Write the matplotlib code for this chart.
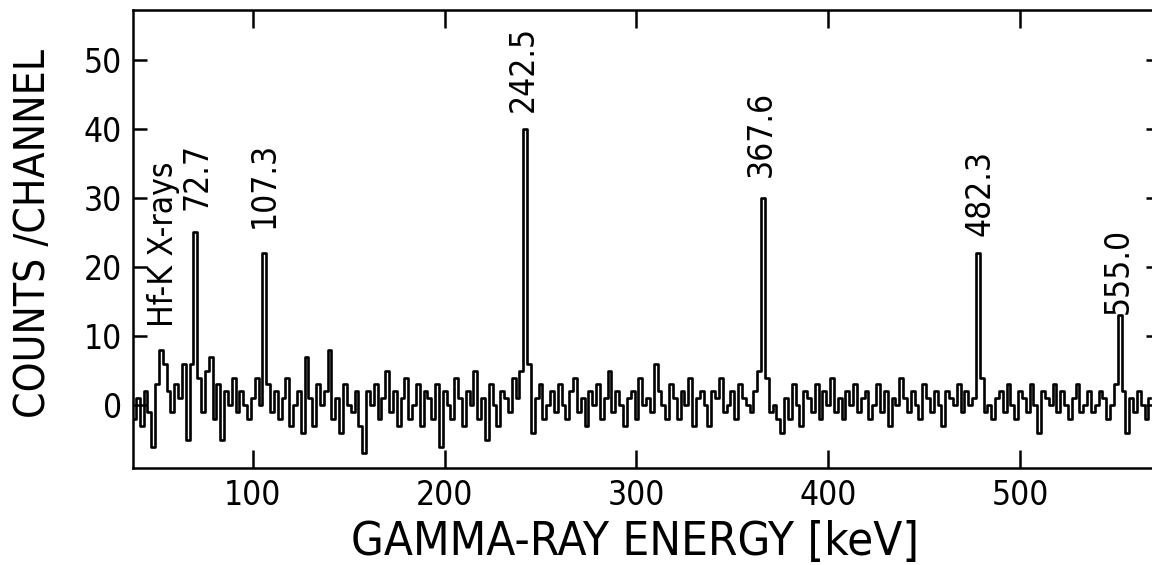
import matplotlib
matplotlib.use("Agg")
import matplotlib.pyplot as plt

# channel energies (keV), 2 keV per channel
energy_start = 38
energy_step = 2
counts = [
    -2, 1, -3, 2, -1, -6, 3, 8, 6, 2,
    -1, 3, 1, 6, -5, 6, 25, 4, -1, 5,
    7, -2, 3, -5, 2, 0, 4, -1, 2, 0,
    -2, 1, 4, 0, 22, 3, -1, 2, -2, 1,
    4, -3, 0, 2, -4, 7, 1, -3, 3, 0,
    2, 8, -2, 1, -4, 3, 0, -1, 2, -3,
    -7, 2, 0, 3, -2, 1, 5, -1, 2, -3,
    1, 4, -2, 0, 3, -3, 2, 1, -2, 3,
    -6, 2, 0, -2, 4, 1, -3, 2, 0, 5,
    -2, 1, -5, 3, 0, -3, 2, 1, -1, 4,
    1, 5, 40, 6, -4, 1, 3, -2, 0, 2,
    -1, 3, 0, -2, 2, 4, -1, 1, -3, 2,
    0, 3, -2, 1, 5, -1, 2, 0, -3, 1,
    2, -2, 4, 0, 1, -1, 6, 2, 0, -2,
    3, 1, -2, 2, 0, 4, -3, 1, 2, 0,
    -3, 2, 1, 4, -1, 0, 2, -2, 3, 1,
    0, -1, 2, 5, 30, 4, -1, 0, -2, -4,
    1, -2, 3, 0, -3, 2, 1, -1, 3, -2,
    2, 0, 4, -1, 1, -2, 2, 0, 3, -1,
    1, 2, -2, 0, 3, -1, 2, -3, 1, 0,
    4, 1, -1, 2, 0, -2, 3, 1, -1, 2,
    0, -3, 2, 1, 0, 3, -1, 2, 0, 1,
    22, 4, -1, 0, -2, 1, 2, -1, 3, 0,
    -2, 2, 1, -1, 3, 0, -4, 2, 1, 0,
    3, -1, 2, 0, -2, 1, 3, -1, 0, 2,
    -1, 0, 2, 1, -2, 0, 3, 13, 2, -4,
    1, -1, 2, 0, -2, 1,
]
energies = [energy_start + energy_step * i for i in range(len(counts))]

# peak annotations: text, x (keV), bottom of text (counts)
peak_labels = ["Hf-K X-rays", "72.7", "107.3", "242.5", "367.6", "482.3", "555.0"]
label_x = [53.2, 70.9, 105.8, 240.9, 365.0, 479.1, 551.1]
label_y = [11.3, 28.3, 25.7, 42.5, 33.0, 24.5, 13.2]

x_ticks = [100, 200, 300, 400, 500]
y_ticks = [0, 10, 20, 30, 40, 50]

plt.rcParams['font.family'] = ['DejaVu Sans']
plt.rcParams['font.stretch'] = 'condensed'

fig = plt.figure(figsize=(11.52, 5.65), dpi=100)
ax = fig.add_axes([133/1152, 97/565, (1160-133)/1152, 458/565])

ax.plot(energies, counts, color='black', lw=1.9, drawstyle='steps-mid')

ax.set_xlim(37.5, 573)
ax.set_ylim(-9.1, 57.2)
ax.set_xticks(x_ticks)
ax.set_yticks(y_ticks)
ax.tick_params(direction='in', width=1.8, top=True, right=True,
               labelsize=24, pad=8, colors='black')
ax.tick_params(axis='x', length=13)
ax.tick_params(axis='y', length=10)
for s in ax.spines.values():
    s.set_linewidth(1.8)

ax.set_ylabel("COUNTS /CHANNEL", fontsize=30.5, va='center')
ax.yaxis.set_label_coords(-0.0974, 0.513)
ax.set_xlabel("GAMMA-RAY ENERGY [keV]", fontsize=34, va='center')
ax.xaxis.set_label_coords(0.489, -0.1616)

for t, x, y in zip(peak_labels, label_x, label_y):
    ax.text(x, y, t, rotation=90, ha='center', va='bottom', fontsize=24)

fig.savefig("out.png", dpi=100)
